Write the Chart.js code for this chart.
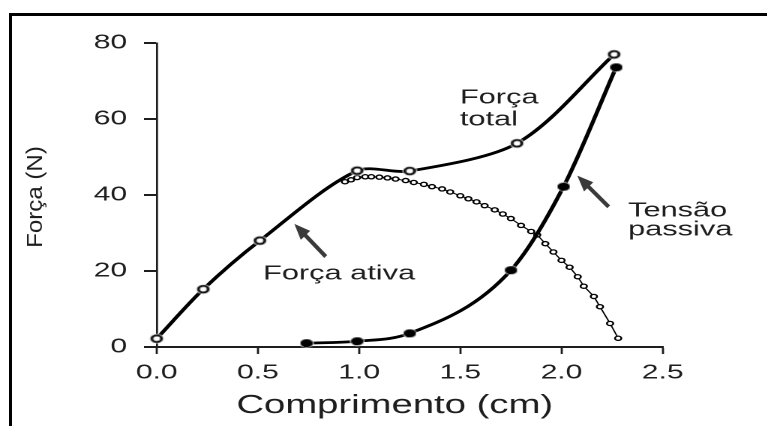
<!DOCTYPE html>
<html><head><meta charset="utf-8">
<script src="https://cdn.jsdelivr.net/npm/chart.js@4"></script>
<style>
html,body{margin:0;padding:0;background:#fff;overflow:hidden;width:767px;height:426px;}
#frame{position:absolute;left:9px;top:13px;width:800px;height:450px;border-left:3px solid #000;border-top:3px solid #000;box-sizing:border-box;}
#wrap{position:absolute;left:0;top:0;width:512px;height:426px;transform:scaleX(1.5);transform-origin:0 0;}
</style></head><body>
<div id="frame"></div>
<div id="wrap"><canvas id="c" width="512" height="426"></canvas></div>
<script>
// ---------- data ----------
const totalX   = [0.00, 0.23, 0.51, 0.99, 1.25, 1.78, 2.26];
const totalY   = [2.2, 15.2, 28.0, 46.4, 46.3, 53.6, 77.0];
const passiveX = [0.74, 0.99, 1.25, 1.75, 2.01, 2.27];
const passiveY = [1.0, 1.5, 3.6, 20.2, 42.2, 73.6];
const activeX  = [0.93, 0.96, 0.99, 1.03, 1.06, 1.10, 1.14, 1.18, 1.23, 1.27, 1.32, 1.36, 1.41, 1.45, 1.50, 1.54, 1.58, 1.62, 1.67, 1.71, 1.75, 1.80, 1.85, 1.88, 1.92, 1.96, 2.00, 2.04, 2.08, 2.11, 2.16, 2.19, 2.24, 2.28];
const activeY  = [43.5, 44.0, 44.6, 44.8, 44.8, 44.7, 44.5, 44.2, 43.8, 43.3, 42.8, 42.2, 41.6, 40.8, 39.8, 39.0, 38.2, 37.2, 36.1, 35.0, 33.8, 32.0, 30.4, 29.5, 27.2, 25.0, 22.8, 21.0, 18.5, 16.0, 13.3, 10.6, 6.2, 2.3];
const xTickLabels = ['0.0', '0.5', '1.0', '1.5', '2.0', '2.5'];
const yTickLabels = ['0', '20', '40', '60', '80'];
const xTitle = 'Comprimento (cm)';
const yTitle = 'Força (N)';
const textLabels = ['Força', 'total', 'Tensão', 'passiva', 'Força ativa'];
// label anchors in data units (left, baseline)
const labelAnchorX = [1.498, 1.498, 2.329, 2.329, 0.525];
const labelAnchorY = [64.1, 58.3, 34.3, 29.3, 17.7];
// arrows in data units: tail -> tip
const arrowTailX = [0.835, 2.233];
const arrowTailY = [23.8, 36.9];
const arrowTipX  = [0.680, 2.078];
const arrowTipY  = [32.4, 45.1];

// ---------- styling ----------
const SX = 1.5;             // horizontal stretch of the picture
const FONT = '"Liberation Sans", Arial, Helvetica, sans-serif';
const INK = '#1e1e1e';

function marker(r, filled, gap) {
  const s = Math.ceil(2 * (r + gap) + 2);
  const c = document.createElement('canvas');
  c.width = s; c.height = s;
  const g = c.getContext('2d');
  g.fillStyle = '#fff';
  g.beginPath(); g.arc(s / 2, s / 2, r + gap, 0, Math.PI * 2); g.fill();
  g.beginPath(); g.arc(s / 2, s / 2, r, 0, Math.PI * 2);
  g.fillStyle = filled ? '#000' : '#fff'; g.fill();
  g.lineWidth = 1.8; g.strokeStyle = '#000'; g.stroke();
  return c;
}
const openMark = marker(3.3, false, 1.5);
const fillMark = marker(3.2, true, 1.5);

const pts = (xs, ys) => xs.map((x, i) => ({x: x, y: ys[i]}));

function drawArrow(ctx, x0, y0, x1, y1) {
  const a = Math.atan2(y1 - y0, x1 - x0);
  const hl = 16, hw = 6.5;
  const bx = x1 - hl * Math.cos(a), by = y1 - hl * Math.sin(a);
  ctx.strokeStyle = '#3a3a3a'; ctx.fillStyle = '#3a3a3a';
  ctx.lineWidth = 4; ctx.lineCap = 'butt';
  ctx.beginPath(); ctx.moveTo(x0, y0); ctx.lineTo(bx + 2 * Math.cos(a), by + 2 * Math.sin(a)); ctx.stroke();
  ctx.beginPath();
  ctx.moveTo(x1, y1);
  ctx.lineTo(bx + hw * Math.sin(a), by - hw * Math.cos(a));
  ctx.lineTo(bx - hw * Math.sin(a), by + hw * Math.cos(a));
  ctx.closePath(); ctx.fill();
}

const annot = {
  id: 'annot',
  afterDraw(chart) {
    const ctx = chart.ctx, xs = chart.scales.x, ys = chart.scales.y;
    ctx.save();
    ctx.fillStyle = INK;
    ctx.textAlign = 'left';
    ctx.textBaseline = 'alphabetic';
    ctx.font = '20.5px ' + FONT;
    textLabels.forEach((t, i) => {
      ctx.fillText(t, xs.getPixelForValue(labelAnchorX[i]), ys.getPixelForValue(labelAnchorY[i]));
    });
    // x-axis title
    ctx.font = '25.5px ' + FONT;
    ctx.textAlign = 'center';
    ctx.fillText(xTitle, (xs.left + xs.right) / 2 - 10, chart.height - 13);
    // y-axis title (rotated, counter-stretched)
    ctx.save();
    ctx.translate(36 / SX, (ys.top + ys.bottom) / 2 + 2);
    ctx.rotate(-Math.PI / 2);
    ctx.scale(1.12, 1 / SX);
    ctx.font = '21.5px ' + FONT;
    ctx.textBaseline = 'middle';
    ctx.fillText(yTitle, 0, 0);
    ctx.restore();
    // arrows drawn un-stretched
    ctx.scale(1 / SX, 1);
    arrowTailX.forEach((_, i) => {
      drawArrow(ctx,
        xs.getPixelForValue(arrowTailX[i]) * SX, ys.getPixelForValue(arrowTailY[i]),
        xs.getPixelForValue(arrowTipX[i]) * SX, ys.getPixelForValue(arrowTipY[i]));
    });
    ctx.restore();
  }
};

new Chart(document.getElementById('c'), {
  type: 'scatter',
  data: {
    datasets: [
      {
        label: 'Força ativa', data: pts(activeX, activeY), showLine: true,
        borderColor: '#000', borderWidth: 1, tension: 0,
        pointStyle: 'circle', pointRadius: 2.1, pointBorderWidth: 1.3,
        pointBackgroundColor: '#fff', pointBorderColor: '#000', order: 3, clip: false
      },
      {
        label: 'Tensão passiva', data: pts(passiveX, passiveY), showLine: true,
        borderColor: '#000', borderWidth: 2.8, cubicInterpolationMode: 'monotone',
        pointStyle: fillMark, order: 2, clip: false
      },
      {
        label: 'Força total', data: pts(totalX, totalY), showLine: true,
        borderColor: '#000', borderWidth: 2.8, tension: 0.3,
        pointStyle: openMark, order: 1, clip: false
      }
    ]
  },
  options: {
    responsive: false,
    devicePixelRatio: 2,
    animation: false,
    events: [],
    layout: {padding: {left: 0, right: 70.2, top: 43, bottom: 0}},
    plugins: {legend: {display: false}, tooltip: {enabled: false}},
    scales: {
      x: {
        type: 'linear', min: 0, max: 2.5,
        ticks: {stepSize: 0.5, autoSkip: false, maxRotation: 0, padding: 7, color: INK,
          font: {family: FONT, size: 20},
          callback: (v, i) => xTickLabels[i]},
        grid: {drawOnChartArea: false, drawTicks: true, tickLength: 7, tickWidth: 1.4, tickColor: INK},
        border: {display: true, color: INK, width: 2},
        afterFit(s) { s.height = 79; }
      },
      y: {
        type: 'linear', min: 0, max: 80,
        ticks: {stepSize: 20, padding: 11.3, color: INK,
          font: {family: FONT, size: 20},
          callback: (v, i) => yTickLabels[i]},
        grid: {drawOnChartArea: false, drawTicks: true, tickLength: 8.5, tickWidth: 2, tickColor: INK},
        border: {display: true, color: INK, width: 1.35},
        afterFit(s) { s.width = 104.5; }
      }
    }
  },
  plugins: [annot]
});
</script>
</body></html>
